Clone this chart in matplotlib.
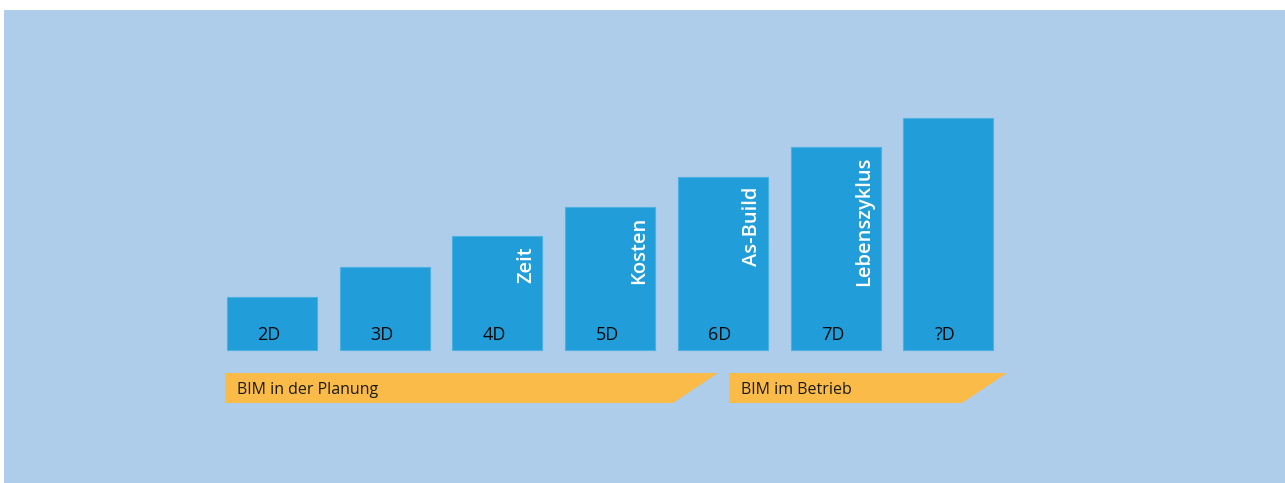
import matplotlib
matplotlib.use("Agg")
from matplotlib import pyplot as plt
from matplotlib.patches import Polygon, Rectangle

# chart data
stages = ["2D", "3D", "4D", "5D", "6D", "7D", "?D"]
levels = [53, 83, 114, 143, 173, 203, 232]
topics = ["", "", "Zeit", "Kosten", "As-Build", "Lebenszyklus", ""]
phases = ["BIM in der Planung", "BIM im Betrieb"]

BG = "#AECDEA"
BAR = "#219DD9"
ORANGE = "#FABB48"
W, H = 1285, 483
STEP = 112.7
X0 = 272.0
BASE = 350.0

plt.rcParams["font.family"] = ["Open Sans", "DejaVu Sans"]

fig = plt.figure(figsize=(W / 100, H / 100), dpi=100, facecolor="white")
ax = fig.add_axes([0, 0, 1, 1])
ax.set_facecolor("none")
ax.set_xlim(-X0 / STEP, (W - X0) / STEP)
ax.set_ylim(BASE - H, BASE)
ax.axis("off")
ax.add_patch(Rectangle((4 / W, 0), 1, (H - 10) / H, transform=fig.transFigure,
                       facecolor=BG, edgecolor="none", zorder=0))


def px(x, y):
    # pixel position (from top-left) -> data coords
    return (x - X0) / STEP, BASE - y


xs = list(range(len(stages)))
bw = 90 / STEP
ax.bar(xs, levels, width=bw, color=BAR, edgecolor="#4BB0E2", linewidth=0.8, zorder=2)

for i, (s, h, t) in enumerate(zip(stages, levels, topics)):
    ax.text(i - 3 / STEP, 10, s, ha="center", va="baseline", fontsize=13,
            color="#0a0a0a", zorder=3)
    if t:
        ax.text(i + bw / 2 - 6 / STEP, h - 10, t, rotation=90, ha="right", va="top",
                fontsize=14.5, color="white", fontweight="semibold", zorder=3)

banners = [
    [(225, 373), (718, 373), (673, 403), (225, 403)],
    [(729, 373), (1007, 373), (962, 403), (729, 403)],
]
for pts, label in zip(banners, phases):
    ax.add_patch(Polygon([px(*p) for p in pts], closed=True, facecolor=ORANGE,
                         edgecolor="none", zorder=2))
    lx, ly = px(pts[0][0] + 12, 394)
    ax.text(lx, ly, label, ha="left", va="baseline", fontsize=11.5,
            color="#1a1a1a", zorder=3)

fig.savefig("out.png", dpi=100, facecolor="white")
